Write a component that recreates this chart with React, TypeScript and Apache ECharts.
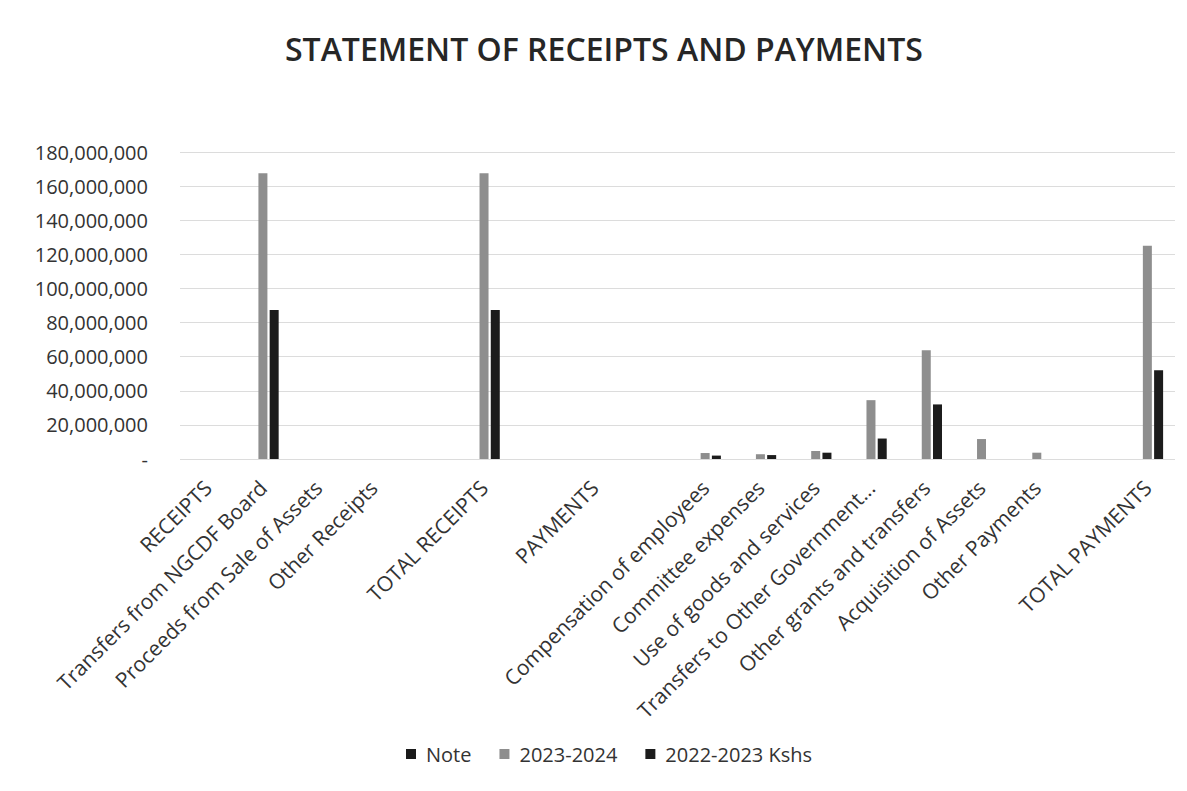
import React, { useEffect, useRef } from "react";
import * as echarts from "echarts";

const categories = [
  "RECEIPTS",
  "Transfers from NGCDF Board",
  "Proceeds from Sale of Assets",
  "Other Receipts",
  "",
  "TOTAL RECEIPTS",
  "",
  "PAYMENTS",
  "",
  "Compensation of employees",
  "Committee expenses",
  "Use of goods and services",
  "Transfers to Other Government...",
  "Other grants and transfers",
  "Acquisition of Assets",
  "Other Payments",
  "",
  "TOTAL PAYMENTS",
];

const noteValues = [0, 0, 0, 0, 0, 0, 0, 0, 0, 0, 0, 0, 0, 0, 0, 0, 0, 0];
const values2023_2024 = [
  0, 167500000, 0, 0, 0, 167500000, 0, 0, 0, 3500000, 2800000, 4700000, 34500000, 63700000, 11700000,
  3700000, 0, 125000000,
];
const values2022_2023 = [
  0, 87300000, 0, 0, 0, 87300000, 0, 0, 0, 2000000, 2300000, 3700000, 12000000, 32000000, 0, 0, 0,
  52000000,
];

const seriesNames = ["Note", "2023-2024", "2022-2023 Kshs"];
const yTicks = { min: 0, max: 180000000, interval: 20000000 };

export default function App() {
  const ref = useRef<HTMLDivElement>(null);
  useEffect(() => {
    if (!ref.current) return;
    const chart = echarts.init(ref.current, undefined, { renderer: "svg" });
    const font = "'Open Sans', sans-serif";
    const barCommon = { type: "bar" as const, barWidth: 9, barGap: "25%" };
    chart.setOption({
      animation: false,
      backgroundColor: "#ffffff",
      title: {
        text: "STATEMENT OF RECEIPTS AND PAYMENTS",
        left: 277,
        top: 24,
        padding: 0,
        textStyle: { fontFamily: font, fontSize: 32, fontWeight: 600, color: "#262626" },
      },
      legend: {
        bottom: 14,
        left: 393,
        itemWidth: 10,
        itemHeight: 10,
        itemGap: 28,
        icon: "rect",
        textStyle: { fontFamily: font, fontSize: 20, color: "#333333", padding: [0, 0, 0, 5] },
        data: seriesNames,
      },
      grid: { left: 172, right: 4, top: 144, bottom: 324, containLabel: false },
      xAxis: {
        type: "category",
        data: categories,
        axisLine: { show: false },
        axisTick: { show: false },
        axisLabel: {
          interval: 0,
          rotate: 45,
          margin: 25,
          fontFamily: font,
          fontSize: 21,
          color: "#333333",
        },
      },
      yAxis: {
        type: "value",
        min: yTicks.min,
        max: yTicks.max,
        interval: yTicks.interval,
        axisLine: { show: false },
        axisTick: { show: false },
        splitLine: { lineStyle: { color: "#dcdcdc", width: 1 } },
        axisLabel: {
          margin: 32,
          fontFamily: font,
          fontSize: 20,
          color: "#333333",
          formatter: (v: number) => (v === 0 ? "-" : v.toLocaleString("en-US")),
        },
      },
      series: [
        { ...barCommon, name: seriesNames[0], data: noteValues, itemStyle: { color: "#1a1a1a" } },
        { ...barCommon, name: seriesNames[1], data: values2023_2024, itemStyle: { color: "#8e8e8e" } },
        { ...barCommon, name: seriesNames[2], data: values2022_2023, itemStyle: { color: "#1c1c1c" } },
      ],
    });
    return () => chart.dispose();
  }, []);
  return <div ref={ref} style={{ width: 1171, height: 775 }} />;
}
